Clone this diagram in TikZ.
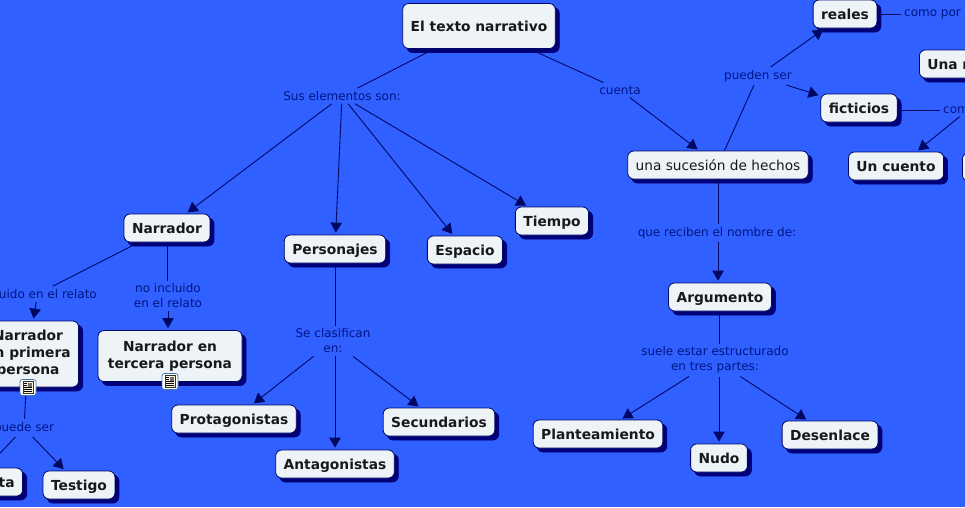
\documentclass[tikz,border=0pt]{standalone}
\usepackage{fontspec}
\setmainfont{DejaVu Sans}
\usepackage{xcolor}
\usetikzlibrary{arrows.meta,shadows}
\definecolor{fondo}{RGB}{48,96,255}
\definecolor{marino}{RGB}{0,8,100}
\definecolor{sombra}{RGB}{0,0,120}
\definecolor{caja}{RGB}{238,243,248}
\definecolor{letra}{RGB}{0,22,130}
\definecolor{papel}{RGB}{250,245,215}
\definecolor{borde}{RGB}{70,120,170}
\tikzset{
	concepto/.style={draw=marino,fill=caja,rounded corners=6pt,line width=0.8pt,align=center,inner xsep=8pt,inner ysep=3pt,minimum height=28pt,text height=14.5pt,text depth=3pt,text=black!90,font=\fontsize{13.8pt}{17pt}\selectfont\bfseries,copy shadow={shadow xshift=4pt,shadow yshift=-4pt,fill=sombra,draw=sombra}},
	varias/.style={concepto,text height=,text depth=},
	hecho/.style={concepto,font=\fontsize{13.7pt}{17pt}\selectfont},
	enlace/.style={align=center,inner sep=3pt,text=letra,font=\fontsize{12pt}{15pt}\selectfont},
	linea/.style={draw=marino,line width=0.9pt},
	flecha/.style={linea,-{Triangle[length=10pt,width=11.5pt]},shorten >=2pt},
	pics/icono/.style={code={
		\draw[fill=white,draw=borde,rounded corners=2.5pt,line width=0.7pt] (-8,-8) rectangle (8,8);
		\fill[papel,draw=black!80,line width=0.5pt] (-5,-6) rectangle (5,6);
		\fill[black!55] (0,-5) rectangle (4,-1);
		\foreach \y in {0,2,4}
			\draw[black,line width=0.5pt] (-4,\y) -- (4,\y);
		\foreach \y in {-4,-2}
			\draw[black,line width=0.5pt] (-4,\y) -- (-1,\y);
	}}
}
\begin{document}
\begin{tikzpicture}[x=1pt,y=-1pt]
	\clip (0,0) rectangle (965,507);
	\fill[fondo] (0,0) rectangle (965,507);
	\node[concepto,minimum height=45pt] (titulo) at (479,26) {El texto narrativo};
	\node[enlace] (elementos) at (342,96) {Sus elementos son:};
	\node[enlace] (cuenta) at (620,90) {cuenta};
	\node[hecho] (sucesion) at (718,165) {una sucesión de hechos};
	\node[enlace] (pueden) at (758,76) {pueden ser};
	\node[concepto] (reales) at (845,14) {reales};
	\node[enlace,anchor=west] (comopor) at (901,14) {como por};
	\node[concepto,anchor=west,minimum width=100pt,text width=84pt,align=left] (una) at (919,64) {Una n};
	\node[concepto] (ficticios) at (859,108) {ficticios};
	\node[enlace,anchor=west] (como) at (940,110) {como};
	\node[concepto] (cuento) at (896,166) {Un cuento};
	\node[concepto,anchor=west,minimum width=60pt] (otro) at (962,167) {};
	\node[enlace] (reciben) at (717,233) {que reciben el nombre de:};
	\node[concepto] (argumento) at (720,297) {Argumento};
	\node[enlace] (suele) at (715,360) {suele estar estructurado\\en tres partes:};
	\node[concepto] (plant) at (598,434) {Planteamiento};
	\node[concepto] (nudo) at (719,458) {Nudo};
	\node[concepto] (desenlace) at (830,435) {Desenlace};
	\node[concepto] (tiempo) at (552,221) {Tiempo};
	\node[concepto] (espacio) at (465,250) {Espacio};
	\node[concepto] (personajes) at (335,249) {Personajes};
	\node[concepto] (narrador) at (167,228) {Narrador};
	\node[enlace] (noincl) at (168,296) {no incluido\\en el relato};
	\node[enlace,anchor=east] (incl) at (100,294) {incluido en el relato};
	\node[varias,minimum height=66pt] (primera) at (28,354) {Narrador\\en primera\\persona};
	\node[varias,minimum height=51pt,minimum width=144pt] (tercera) at (170,356) {Narrador en\\tercera persona};
	\node[concepto] (prota) at (234,419) {Protagonistas};
	\node[enlace] (clasif) at (333,341) {Se clasifican\\en:};
	\node[concepto] (secund) at (439,422) {Secundarios};
	\node[concepto] (antag) at (335,464) {Antagonistas};
	\node[enlace] (puede) at (24,428) {puede ser};
	\node[concepto] (testigo) at (79,485) {Testigo};
	\node[concepto,anchor=east,minimum width=100pt,text width=84pt,align=right] (omni) at (23,482) {ta};
	\draw[linea] (titulo) -- (elementos);
	\draw[linea] (titulo) -- (cuenta);
	\draw[flecha] (cuenta) -- (sucesion);
	\draw[flecha] (elementos) -- (narrador);
	\draw[flecha] (elementos) -- (personajes);
	\draw[flecha] (elementos) -- (espacio);
	\draw[flecha] (elementos) -- (tiempo);
	\draw[linea] (sucesion) -- (pueden);
	\draw[flecha] (pueden) -- (reales);
	\draw[flecha] (pueden) -- (ficticios);
	\draw[linea] (reales) -- (comopor);
	\draw[linea] (ficticios.east |- como) -- (como);
	\draw[flecha] (como.south) -- (cuento.35);
	\draw[linea] (sucesion) -- (sucesion |- reciben.north);
	\draw[flecha] (sucesion |- reciben.south) -- (sucesion |- argumento.north);
	\draw[linea] (nudo |- argumento.south) -- (nudo |- suele.north);
	\draw[flecha] (suele) -- (plant);
	\draw[flecha] (nudo |- suele.south) -- (nudo);
	\draw[flecha] (suele) -- (desenlace);
	\draw[linea] (narrador) -- (narrador |- noincl.north);
	\draw[flecha] (noincl) -- (noincl |- tercera.north);
	\draw[linea] (narrador) -- (incl);
	\draw[flecha] (incl) -- (primera);
	\draw[linea] (personajes) -- (personajes |- clasif.north);
	\draw[flecha] (clasif) -- (prota);
	\draw[flecha] (antag |- clasif.south) -- (antag);
	\draw[flecha] (clasif) -- (secund);
	\draw[linea] (primera) -- (puede);
	\draw[flecha] (puede) -- (testigo);
	\draw[flecha] (puede) -- (omni);
	\pic at (170,381.5) {icono};
	\pic at (28,387.5) {icono};
\end{tikzpicture}
\end{document}
